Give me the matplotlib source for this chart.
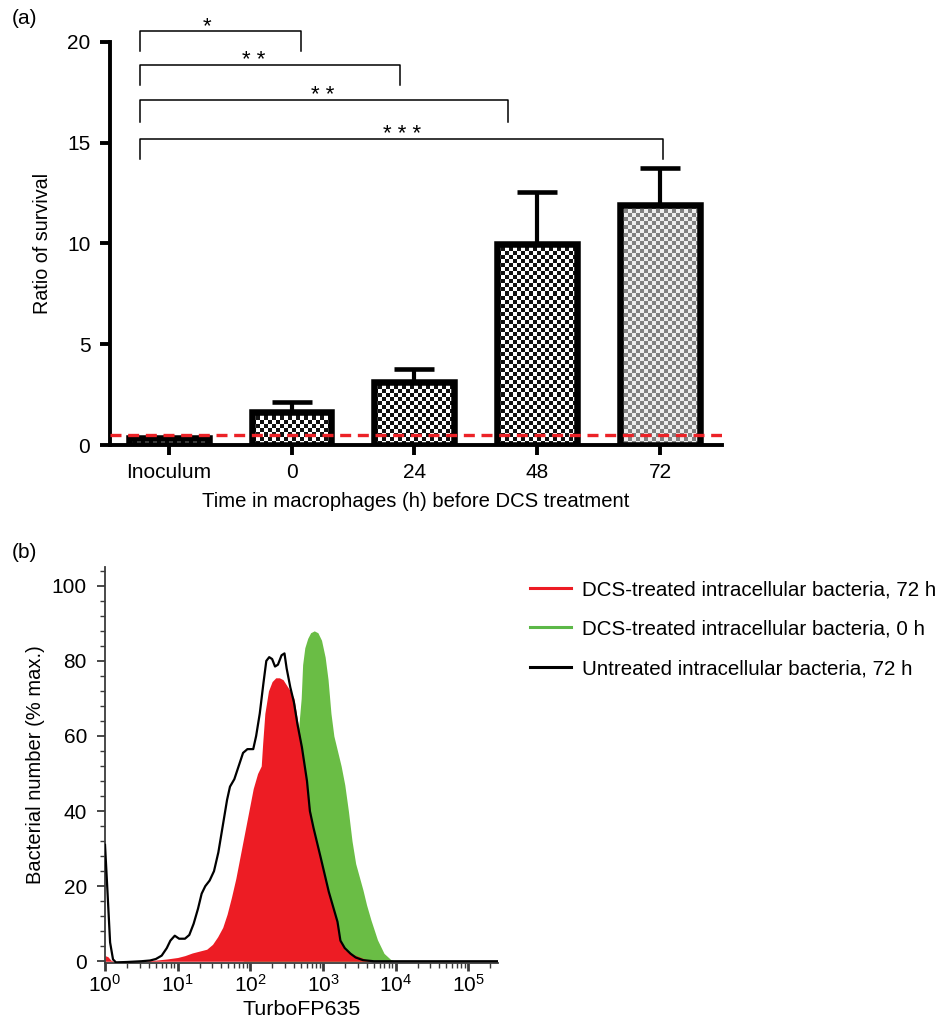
import matplotlib.pyplot as plt
import numpy as np
from matplotlib.colors import ListedColormap
from matplotlib.lines import Line2D
from matplotlib.ticker import LogLocator, MultipleLocator, NullFormatter

plt.rcParams['font.family'] = ['Liberation Sans', 'DejaVu Sans']

# ---------------- panel (a): survival ratio ----------------
groups = ['Inoculum', '0', '24', '48', '72']
ratio_mean = [0.35, 1.65, 3.14, 9.98, 11.9]
ratio_err = [0.0, 0.5, 0.63, 2.59, 1.83]
detection_limit = 0.5

# significance brackets (x in group units, y in ratio units)
bracket_left = [-0.23, -0.23, -0.23, -0.23]
bracket_right = [1.08, 1.88, 2.76, 4.02]
bracket_top = [20.55, 18.85, 17.1, 15.2]
bracket_foot = [19.55, 17.85, 16.05, 14.2]
star_x = [0.31, 0.69, 1.25, 1.90]
star_text = ['*', '* *', '* *', '* * *']

# ---------------- panel (b): flow cytometry histograms ----------------
# x as log10(TurboFP635), y as % max
red_logx = [0.0, 0.04, 0.08, 0.12, 0.5, 0.7, 0.85, 1.0, 1.1, 1.2, 1.3, 1.4, 1.48,
            1.55, 1.62, 1.68, 1.74, 1.8, 1.86, 1.92, 1.98, 2.04, 2.1, 2.15, 2.17,
            2.2, 2.25, 2.3, 2.35, 2.4, 2.45, 2.5, 2.55, 2.6, 2.65, 2.71, 2.76, 2.8,
            2.87, 2.97, 3.08, 3.2, 3.24, 3.3, 3.43, 3.6, 3.7, 5.41]
red_pct = [1.5, 1.2, 0.3, 0.0, 0.0, 0.3, 0.6, 1.0, 1.5, 2.2, 2.7, 3.2, 4.5,
           6.5, 9.0, 12.5, 17.0, 22.0, 28.0, 34.0, 40.0, 46.0, 50.0, 52.0, 58.0,
           66.0, 72.0, 74.5, 75.5, 75.5, 75.0, 73.5, 72.0, 70.0, 64.0, 57.0, 49.0, 43.0,
           35.0, 27.0, 18.0, 10.0, 5.0, 3.0, 1.7, 0.4, 0.0, 0.0]

green_logx = [1.9, 2.1, 2.3, 2.45, 2.55, 2.62, 2.66, 2.7, 2.72, 2.75, 2.79, 2.83,
              2.88, 2.93, 2.98, 3.03, 3.07, 3.11, 3.15, 3.2, 3.25, 3.3, 3.35, 3.4,
              3.45, 3.5, 3.55, 3.6, 3.66, 3.75, 3.84, 3.93, 4.0, 5.41]
green_pct = [0.0, 5.0, 20.0, 42.0, 56.0, 60.0, 61.0, 70.0, 79.0, 83.5, 86.0, 87.5,
             88.0, 87.5, 85.5, 81.0, 75.0, 66.0, 60.0, 56.0, 52.0, 47.0, 40.0, 32.0,
             26.0, 22.5, 19.0, 15.0, 11.0, 5.7, 2.1, 0.5, 0.0, 0.0]

black_logx = [0.0, 0.03, 0.07, 0.11, 0.15, 0.3, 0.5, 0.62, 0.7, 0.78, 0.85, 0.9,
              0.96, 1.02, 1.1, 1.16, 1.22, 1.28, 1.33, 1.38, 1.44, 1.5, 1.56, 1.62,
              1.68, 1.72, 1.78, 1.84, 1.9, 1.96, 2.04, 2.08, 2.13, 2.18, 2.22, 2.26,
              2.3, 2.34, 2.38, 2.43, 2.47, 2.5, 2.55, 2.6, 2.65, 2.71, 2.78, 2.82,
              2.87, 2.97, 3.08, 3.2, 3.24, 3.3, 3.38, 3.45, 3.55, 3.7, 5.41]
black_pct = [31.0, 20.0, 5.0, 0.5, -0.3, -0.2, 0.0, 0.2, 0.6, 1.5, 3.5, 5.5,
             6.8, 6.0, 6.0, 7.0, 10.0, 14.0, 18.0, 20.0, 21.5, 24.0, 29.0, 36.0,
             43.0, 46.5, 48.5, 52.0, 55.5, 56.5, 56.5, 60.0, 66.0, 74.0, 80.0, 81.0,
             80.5, 78.5, 79.0, 81.5, 82.0, 78.0, 73.0, 69.0, 63.0, 57.0, 48.0, 40.0,
             35.5, 27.5, 18.5, 10.5, 5.5, 3.5, 2.0, 1.0, 0.3, 0.0, 0.0]

legend_labels = ['DCS-treated intracellular bacteria, 72 h',
                 'DCS-treated intracellular bacteria, 0 h',
                 'Untreated intracellular bacteria, 72 h']

RED = '#ed1c24'
GREEN = '#6abd45'

fig = plt.figure(figsize=(9.41, 10.23), dpi=100)

# ======== (a) ========
ax1 = fig.add_axes([0.117, 0.565, 0.650, 0.394])
xlim_a = (-0.476, 4.5)
ax1.set_xlim(*xlim_a)
ax1.set_ylim(0, 20)
xpos = np.arange(len(groups))
bar_w = 0.65

# checkerboard fill, about 4 px per square
p0, p1 = ax1.transData.transform([(0, 0), (1, 1)])
px_x, px_y = p1 - p0
cell = 4.0
dark_cmap = ListedColormap(['white', '#111111'])
light_cmap = ListedColormap(['#eeeeee', '#808080'])
for i, (xi, h) in enumerate(zip(xpos, ratio_mean)):
    nx = max(1, int(round(bar_w * px_x / cell)))
    ny = max(1, int(round(h * px_y / cell)))
    board = np.indices((ny, nx)).sum(axis=0) % 2
    cmap = light_cmap if i == len(groups) - 1 else dark_cmap
    ax1.imshow(board, cmap=cmap, extent=(xi - bar_w / 2, xi + bar_w / 2, 0, h),
               aspect='auto', interpolation='nearest', origin='lower', zorder=1)

ax1.bar(xpos, ratio_mean, width=bar_w, facecolor='none', edgecolor='black',
        linewidth=4.7, zorder=3)
ax1.errorbar(xpos[1:], ratio_mean[1:], yerr=[np.zeros(len(groups) - 1), ratio_err[1:]],
             fmt='none', ecolor='black', elinewidth=3, capsize=14.5, capthick=3.3, zorder=2)
ax1.axhline(detection_limit, color='#ec2227', lw=2.4, dashes=(3.3, 2.0), zorder=4)

for xl, xr, top, foot, sx, st in zip(bracket_left, bracket_right, bracket_top,
                                     bracket_foot, star_x, star_text):
    ax1.plot([xl, xl, xr, xr], [foot, top, top, foot], color='black', lw=1.1,
             clip_on=False, zorder=5)
    ax1.text(sx, top - 0.05, st, ha='center', va='baseline', fontsize=16)

ax1.set_xlim(*xlim_a)
ax1.set_ylim(0, 20)
for s in ['top', 'right']:
    ax1.spines[s].set_visible(False)
for s in ['left', 'bottom']:
    ax1.spines[s].set_linewidth(2.8)
ax1.set_yticks([0, 5, 10, 15, 20])
ax1.set_xticks(xpos)
ax1.set_xticklabels(groups)
ax1.tick_params(axis='both', width=2.8, length=7.2, labelsize=15)
ax1.tick_params(axis='y', pad=7)
ax1.tick_params(axis='x', pad=6)
ax1.set_ylabel('Ratio of survival', fontsize=14.2, labelpad=11)
ax1.set_xlabel('Time in macrophages (h) before DCS treatment', fontsize=14.6, labelpad=7)

fig.text(0.0124, 1 - 18 / 1023, '(a)', fontsize=15, va='center')

# ======== (b) ========
ax2 = fig.add_axes([0.1116, 0.0589, 0.4177, 0.3868])
ax2.set_xscale('log')
ax2.fill_between(10 ** np.array(green_logx), green_pct, color=GREEN, lw=0, zorder=1)
ax2.fill_between(10 ** np.array(red_logx), red_pct, color=RED, lw=0, zorder=2)
ax2.plot(10 ** np.array(black_logx), black_pct, color='black', lw=1.6, zorder=3)

ax2.set_xlim(1, 10 ** 5.41)
ax2.set_ylim(-0.4, 105)
for s in ['top', 'right']:
    ax2.spines[s].set_visible(False)
for s in ['left', 'bottom']:
    ax2.spines[s].set_linewidth(1.3)
    ax2.spines[s].set_color('#3a3a3a')
ax2.set_yticks([0, 20, 40, 60, 80, 100])
ax2.yaxis.set_minor_locator(MultipleLocator(4))
ax2.xaxis.set_major_locator(LogLocator(base=10))
ax2.xaxis.set_minor_locator(LogLocator(base=10, subs=np.arange(2, 10)))
ax2.xaxis.set_minor_formatter(NullFormatter())
ax2.tick_params(axis='both', which='major', length=6, width=1.3, color='#3a3a3a',
                labelsize=15)
ax2.tick_params(axis='both', which='minor', length=3.5, width=1.0, color='#3a3a3a')
ax2.tick_params(axis='x', which='major', width=2.0, pad=2)
ax2.tick_params(axis='y', which='major', pad=7)
ax2.set_ylabel('Bacterial number (% max.)', fontsize=14.5, labelpad=5)
ax2.set_xlabel('TurboFP635', fontsize=15.4, labelpad=3)

fig.text(0.0124, 1 - 553 / 1023, '(b)', fontsize=15, va='center')

handles = [Line2D([], [], color=RED, lw=2.2),
           Line2D([], [], color='#5cb848', lw=2.2),
           Line2D([], [], color='black', lw=2.2)]
fig.legend(handles, legend_labels, loc='upper left',
           bbox_to_anchor=(530 / 941, 1 - 580 / 1023), frameon=False, fontsize=14.8,
           handlelength=2.0, handletextpad=0.55, labelspacing=1.0, borderpad=0,
           borderaxespad=0)

fig.savefig('out.png', dpi=100)
